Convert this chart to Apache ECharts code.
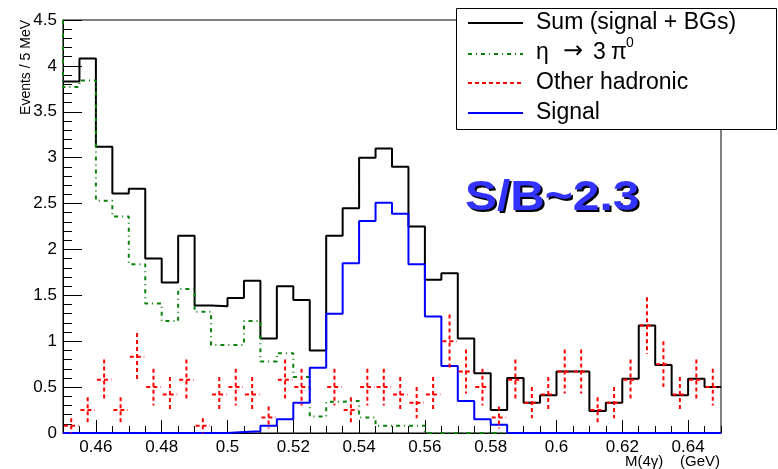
<!DOCTYPE html>
<html>
<head>
<meta charset="utf-8">
<script src="https://cdn.jsdelivr.net/npm/echarts@6/dist/echarts.min.js"></script>
<style>
html, body { margin: 0; padding: 0; background: #fff; }
#main { width: 778px; height: 469px; }
</style>
</head>
<body>
<div id="main"></div>
<script>
// bins of 5 MeV from 0.45 to 0.65 GeV
var xMin = 0.45, xMax = 0.65, binWidth = 0.005;
var xTicks = [0.46, 0.48, 0.5, 0.52, 0.54, 0.56, 0.58, 0.6, 0.62, 0.64];

// Sum (signal + BGs)
var sumVals = [3.83, 4.08, 3.12, 2.61, 2.66, 1.90, 1.64, 2.15, 1.39, 1.38,
               1.47, 1.66, 1.03, 1.60, 1.45, 0.90, 2.15, 2.45, 3.00, 3.10,
               2.90, 2.25, 1.67, 1.74, 1.03, 0.65, 0.25, 0.60, 0.33, 0.41,
               0.67, 0.67, 0.24, 0.33, 0.59, 1.17, 0.74, 0.41, 0.59, 0.50];
// eta -> 3 pi0 (underflow bin is above the frame)
var etaUnderflow = 4.6;
var etaVals = [3.77, 3.84, 2.53, 2.36, 1.84, 1.41, 1.22, 1.57, 1.32, 0.96,
               0.96, 1.22, 0.78, 0.87, 0.61, 0.18, 0.34, 0.35, 0.17, 0.08,
               0.08, 0.08, 0, 0, 0, 0, 0, 0, 0, 0,
               0, 0, 0, 0, 0, 0, 0, 0, 0, 0];
// Other hadronic, with errors
var otherVals = [0.08, 0.25, 0.58, 0.25, 0.83, 0.50, 0.42, 0.58, 0.08, 0.42,
                 0.50, 0.42, 0.17, 0.58, 0.50, 0, 0.50, 0.25, 0.50, 0.50,
                 0.42, 0.33, 0.42, 1.00, 0.67, 0.50, 0.17, 0.58, 0.33, 0.42,
                 0.67, 0.67, 0.25, 0.33, 0.58, 1.17, 0.75, 0.42, 0.58, 0.50];
var otherErrs = [0.08, 0.14, 0.22, 0.14, 0.26, 0.20, 0.19, 0.22, 0.08, 0.19,
                 0.20, 0.19, 0.12, 0.22, 0.20, 0, 0.20, 0.14, 0.20, 0.20,
                 0.19, 0.17, 0.19, 0.29, 0.24, 0.20, 0.12, 0.22, 0.17, 0.19,
                 0.24, 0.24, 0.14, 0.17, 0.22, 0.31, 0.25, 0.19, 0.22, 0.20];
// Signal
var signalVals = [0, 0, 0, 0, 0, 0, 0, 0, 0, 0,
                  0.01, 0.02, 0.08, 0.15, 0.33, 0.71, 1.30, 1.85, 2.31, 2.51,
                  2.39, 1.84, 1.27, 0.73, 0.35, 0.15, 0.09, 0, 0, 0,
                  0, 0, 0, 0, 0, 0, 0, 0, 0, 0];

var FONT = 'Liberation Sans, Arial, Helvetica, sans-serif';

function binLow(i) { return +(xMin + i * binWidth).toFixed(4); }

// histogram outline: one point per bin low edge, plus the last high edge
function stepData(vals) {
    var d = [];
    for (var i = 0; i < vals.length; i++) d.push([binLow(i), vals[i]]);
    d.push([binLow(vals.length), vals[vals.length - 1]]);
    return d;
}

var etaData = [[binLow(-1), etaUnderflow]].concat(stepData(etaVals));

var otherData = [];
for (var i = 0; i < otherVals.length; i++) {
    if (otherVals[i] > 0) otherData.push([binLow(i) + binWidth / 2, otherVals[i], otherErrs[i], binLow(i), binLow(i + 1)]);
}

function renderErr(params, api) {
    var x = api.value(0), v = api.value(1), e = api.value(2);
    var l = api.coord([api.value(3), v]), r = api.coord([api.value(4), v]);
    var t = api.coord([x, v + e]), b = api.coord([x, v - e]);
    var st = { stroke: '#ff0000', lineWidth: 2, lineDash: [4, 3] };
    return {
        type: 'group',
        children: [
            { type: 'line', shape: { x1: l[0] + 1, y1: l[1], x2: r[0] - 1, y2: r[1] }, style: st },
            { type: 'line', shape: { x1: t[0], y1: t[1], x2: b[0], y2: b[1] }, style: st }
        ]
    };
}

var chart = echarts.init(document.getElementById('main'));

function lgText(x, y, s, font) {
    return { type: 'text', z: 101, x: x, y: y, style: { text: s, font: font || ('23px ' + FONT), fill: '#000', verticalAlign: 'middle' } };
}

// legend rows
var lgX = 468, lgY = [23, 54, 83, 113];
var legendGraphics = [
    { type: 'rect', z: 100, shape: { x: 456.5, y: 8.5, width: 320, height: 121 },
      style: { fill: '#fff', stroke: '#000', lineWidth: 1 } },
    { type: 'line', z: 101, shape: { x1: lgX, y1: lgY[0], x2: lgX + 55, y2: lgY[0] }, style: { stroke: '#000', lineWidth: 2 } },
    { type: 'line', z: 101, shape: { x1: lgX, y1: lgY[1], x2: lgX + 55, y2: lgY[1] }, style: { stroke: '#0b800b', lineWidth: 2, lineDash: [4, 4, 1, 4] } },
    { type: 'line', z: 101, shape: { x1: lgX, y1: lgY[2], x2: lgX + 55, y2: lgY[2] }, style: { stroke: '#ff0000', lineWidth: 2, lineDash: [4, 3] } },
    { type: 'line', z: 101, shape: { x1: lgX, y1: lgY[3], x2: lgX + 55, y2: lgY[3] }, style: { stroke: '#0000ff', lineWidth: 2 } },
    lgText(536, lgY[0], 'Sum (signal + BGs)'),
    lgText(536, lgY[1] - 1, 'η'),
    lgText(563, lgY[1] - 2, '→', '24px DejaVu Sans, sans-serif'),
    lgText(593, lgY[1] - 1, '3'),
    lgText(611, lgY[1] - 1, 'π'),
    lgText(626, lgY[1] - 11, '0', '14px ' + FONT),
    lgText(536, lgY[2], 'Other hadronic'),
    lgText(536, lgY[3], 'Signal')
];

var option = {
    animation: false,
    backgroundColor: '#fff',
    grid: { left: 63, right: 57, top: 20, bottom: 36, show: true, borderColor: '#000', borderWidth: 1, backgroundColor: 'transparent' },
    xAxis: [{
        type: 'value', min: xMin, max: xMax,
        axisLine: { lineStyle: { color: '#000', width: 1 } },
        axisTick: { inside: true, length: 13, customValues: xTicks, lineStyle: { color: '#000' } },
        axisLabel: { customValues: xTicks, color: '#000', fontSize: 17, fontFamily: FONT, margin: 6,
                     formatter: function (v) { return String(+v.toFixed(2)); } },
        splitLine: { show: false }
    }, {
        type: 'value', min: xMin, max: xMax, interval: binWidth, position: 'bottom',
        axisLine: { show: false },
        axisTick: { inside: true, length: 7, lineStyle: { color: '#000' } },
        axisLabel: { show: false },
        splitLine: { show: false }
    }],
    yAxis: {
        type: 'value', min: 0, max: 4.5, interval: 0.5,
        axisLine: { show: true, lineStyle: { color: '#000', width: 1 } },
        axisTick: { inside: true, length: 19, lineStyle: { color: '#000' } },
        minorTick: { show: true, splitNumber: 5, length: 9, lineStyle: { color: '#000' } },
        axisLabel: { color: '#000', fontSize: 17, fontFamily: FONT, margin: 6 },
        splitLine: { show: false }
    },
    series: [{
        name: 'Sum (signal + BGs)', type: 'line', step: 'end', symbol: 'none', z: 2,
        lineStyle: { color: '#000', width: 2 }, data: stepData(sumVals)
    }, {
        name: 'eta', type: 'line', step: 'end', symbol: 'none', z: 3,
        lineStyle: { color: '#0b800b', width: 2, type: [4, 4, 1, 4] }, data: etaData
    }, {
        name: 'Signal', type: 'line', step: 'end', symbol: 'none', z: 4,
        lineStyle: { color: '#0000ff', width: 2 }, data: stepData(signalVals)
    }, {
        name: 'Other hadronic', type: 'custom', z: 5, clip: true,
        renderItem: renderErr, data: otherData
    }],
    graphic: legendGraphics.concat([
        { type: 'text', z: 50, x: 467, y: 200, scaleX: 1.14,
          style: { text: 'S/B~2.3', font: 'bold 42px ' + FONT, fill: '#000', verticalAlign: 'middle' } },
        { type: 'text', z: 51, x: 465, y: 198, scaleX: 1.14,
          style: { text: 'S/B~2.3', font: 'bold 42px ' + FONT, fill: '#3333ff', verticalAlign: 'middle' } },
        { type: 'text', x: 26, y: 20, rotation: Math.PI / 2,
          style: { text: 'Events / 5 MeV', font: '14px ' + FONT, fill: '#000', align: 'right', verticalAlign: 'middle' } },
        { type: 'text', x: 720, y: 462,
          style: { text: 'M(4γ)    (GeV)', font: '15px ' + FONT, fill: '#000', align: 'right', verticalAlign: 'middle' } }
    ])
};

chart.setOption(option);
window.onresize = chart.resize;
</script>
</body>
</html>
